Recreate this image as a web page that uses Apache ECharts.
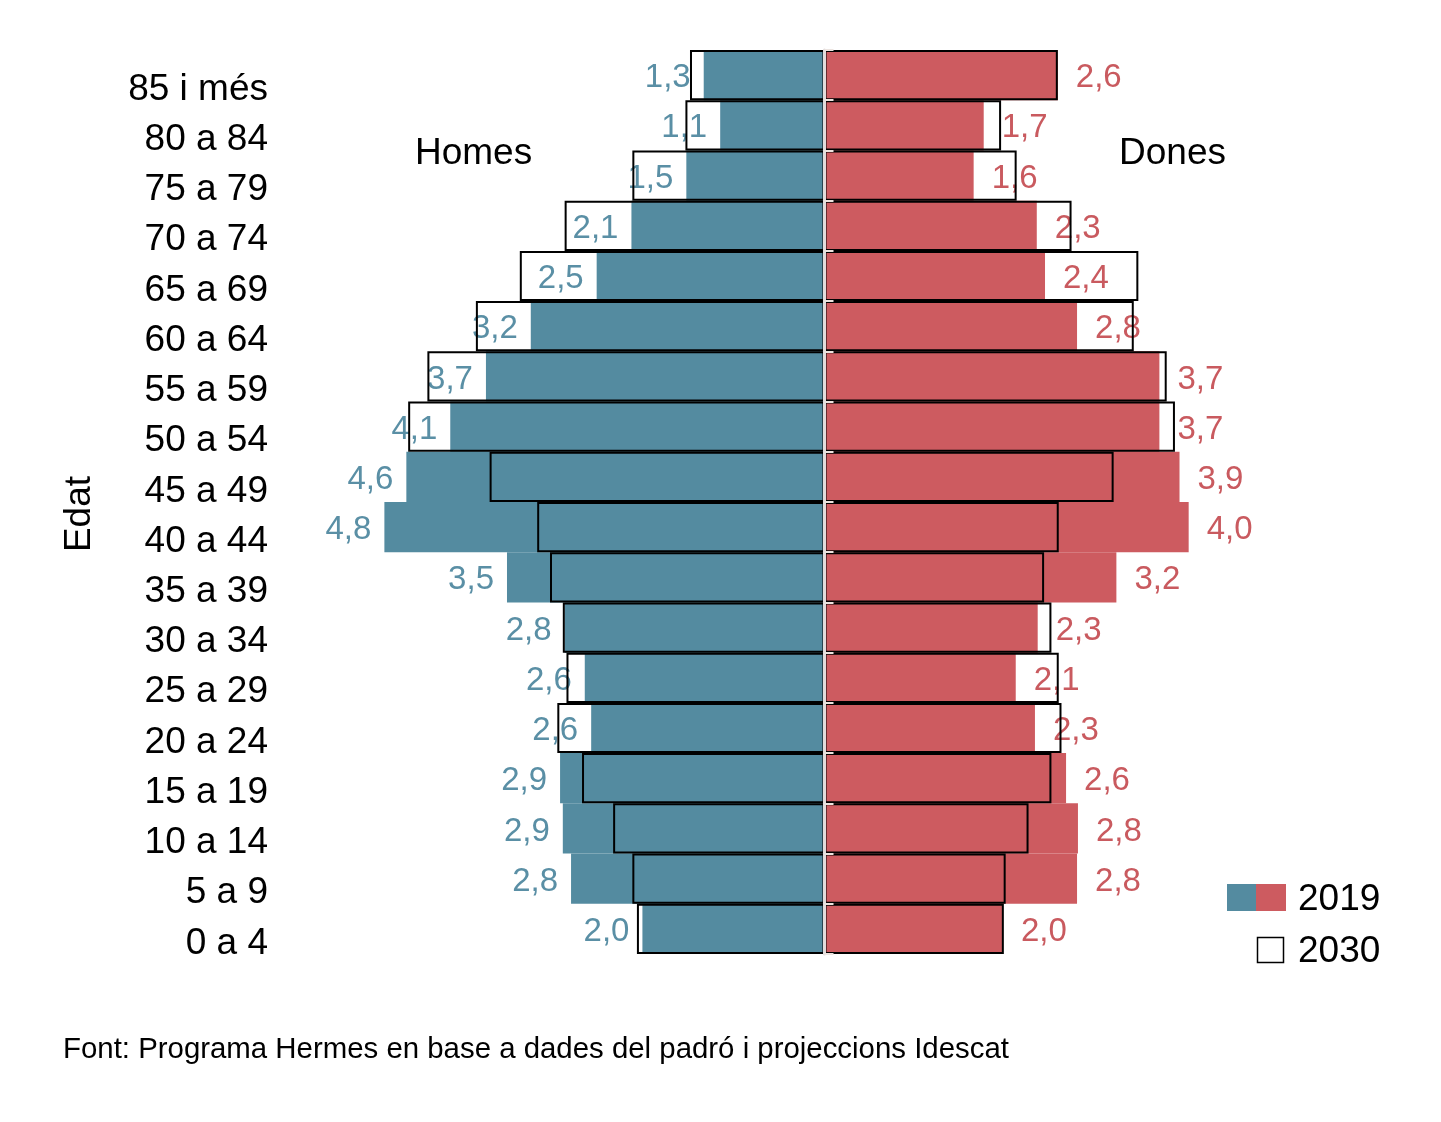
<!DOCTYPE html>
<html>
<head>
<meta charset="utf-8">
<script src="https://cdn.jsdelivr.net/npm/echarts@6/dist/echarts.min.js"></script>
<style>
html, body { margin: 0; padding: 0; background: #fff; }
#chart { width: 1441px; height: 1122px; }
</style>
</head>
<body>
<div id="chart"></div>
<script>
var ages = ['0 a 4', '5 a 9', '10 a 14', '15 a 19', '20 a 24', '25 a 29', '30 a 34', '35 a 39', '40 a 44',
            '45 a 49', '50 a 54', '55 a 59', '60 a 64', '65 a 69', '70 a 74', '75 a 79', '80 a 84', '85 i més'];
// % de la població, de 0 a 4 fins a 85 i més
var homes2019 = [1.99, 2.77, 2.86, 2.89, 2.55, 2.62, 2.84, 3.47, 4.81, 4.57, 4.09, 3.70, 3.21, 2.49, 2.11, 1.51, 1.14, 1.32];
var homes2030 = [2.05, 2.10, 2.31, 2.65, 2.92, 2.82, 2.86, 3.00, 3.14, 3.66, 4.55, 4.34, 3.81, 3.33, 2.84, 2.10, 1.52, 1.47];
var dones2019 = [1.95, 2.76, 2.77, 2.64, 2.30, 2.09, 2.33, 3.19, 3.98, 3.88, 3.66, 3.66, 2.76, 2.41, 2.32, 1.63, 1.74, 2.55];
var dones2030 = [1.96, 1.98, 2.23, 2.48, 2.59, 2.56, 2.48, 2.40, 2.56, 3.16, 3.83, 3.74, 3.38, 3.43, 2.70, 2.10, 1.93, 2.55];

var FONT = '"Liberation Sans", Arial, Helvetica, sans-serif';
var BLUE = '#548ba0', RED = '#cd5b60';

function fmt(p) {
    var v = Math.round(Math.abs(p.value) * 10) / 10;
    return v.toFixed(1).replace('.', ',');
}

var chart = echarts.init(document.getElementById('chart'));

chart.setOption({
    backgroundColor: '#fff',
    animation: false,
    textStyle: { fontFamily: FONT },
    grid: { left: 367, right: 159, top: 50, bottom: 168 },
    xAxis: { type: 'value', min: -5, max: 5, show: false },
    yAxis: [{
        type: 'category',
        data: ages,
        position: 'left',
        axisLine: { show: false, onZero: false },
        axisTick: { show: false },
        axisLabel: {
            fontSize: 37, color: '#000', fontFamily: FONT,
            margin: 99, verticalAlign: 'top', lineHeight: 29
        },
        splitLine: { show: false }
    }, {
        // línia central
        type: 'category',
        data: ages,
        position: 'left',
        z: 5,
        axisLine: { show: true, onZero: true, lineStyle: { color: '#e2dcdc', width: 3 } },
        axisTick: { show: true, inside: true, length: 9, lineStyle: { color: '#ece4e0', width: 2 } },
        axisLabel: { show: false },
        splitLine: { show: false }
    }],
    series: [{
        name: 'Homes 2019',
        type: 'bar',
        data: homes2019.map(function (v) { return -v; }),
        barGap: '-100%', barCategoryGap: '0%',
        itemStyle: { color: BLUE },
        label: { show: true, position: 'left', distance: 13, offset: [0, 3], fontSize: 33, color: '#5a8fa5', fontFamily: FONT, formatter: fmt }
    }, {
        name: 'Dones 2019',
        type: 'bar',
        data: dones2019,
        barGap: '-100%', barCategoryGap: '0%',
        itemStyle: { color: RED },
        label: { show: true, position: 'right', distance: 18, offset: [0, 3], fontSize: 33, color: '#c95a5f', fontFamily: FONT, formatter: fmt }
    }, {
        name: 'Homes 2030',
        type: 'bar',
        data: homes2030.map(function (v) { return -v; }),
        barGap: '-100%', barCategoryGap: '0%',
        z: 3,
        itemStyle: { color: 'rgba(0,0,0,0)', borderColor: '#000', borderWidth: 2 }
    }, {
        name: 'Dones 2030',
        type: 'bar',
        data: dones2030,
        barGap: '-100%', barCategoryGap: '0%',
        z: 3,
        itemStyle: { color: 'rgba(0,0,0,0)', borderColor: '#000', borderWidth: 2 }
    }],
    graphic: [
        { type: 'text', x: 415, y: 154, style: { text: 'Homes', fontSize: 37, fontFamily: FONT, fill: '#000', verticalAlign: 'middle' } },
        { type: 'text', x: 1119, y: 154, style: { text: 'Dones', fontSize: 37, fontFamily: FONT, fill: '#000', verticalAlign: 'middle' } },
        { type: 'text', x: 80, y: 514, rotation: Math.PI / 2, style: { text: 'Edat', fontSize: 37, fontFamily: FONT, fill: '#000', align: 'center', verticalAlign: 'middle' } },
        { type: 'rect', shape: { x: 1227, y: 884, width: 29, height: 27 }, style: { fill: BLUE } },
        { type: 'rect', shape: { x: 1256, y: 884, width: 30, height: 27 }, style: { fill: RED } },
        { type: 'text', x: 1298, y: 900, style: { text: '2019', fontSize: 37, fontFamily: FONT, fill: '#000', verticalAlign: 'middle' } },
        { type: 'rect', shape: { x: 1257.5, y: 937.5, width: 26, height: 25 }, style: { fill: '#fff', stroke: '#000', lineWidth: 1.5 } },
        { type: 'text', x: 1298, y: 952, style: { text: '2030', fontSize: 37, fontFamily: FONT, fill: '#000', verticalAlign: 'middle' } },
        { type: 'text', x: 63, y: 1050, style: { text: 'Font: Programa Hermes en base a dades del padró i projeccions Idescat', fontSize: 29.4, fontFamily: FONT, fill: '#000', verticalAlign: 'middle' } }
    ]
});
</script>
</body>
</html>
